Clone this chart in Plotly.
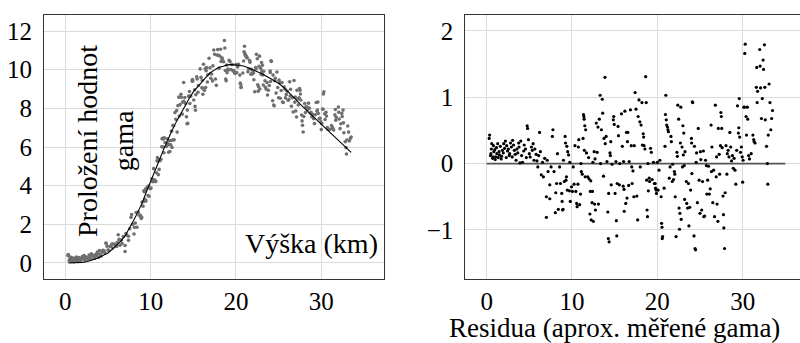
import plotly.graph_objects as go

# ---------------- data ----------------
height_km = [
    0.30, 0.35, 0.45, 0.50, 0.55, 0.60, 0.70, 0.75, 0.80, 0.85, 0.95, 1.00, 1.05, 1.15, 1.20, 1.30, 1.35, 1.45, 1.50, 1.60,
    1.70, 1.75, 1.85, 1.95, 2.00, 2.10, 2.20, 2.30, 2.35, 2.45, 2.55, 2.65, 2.70, 2.80, 2.90, 3.00, 3.05, 3.15, 3.25, 3.35,
    3.45, 3.55, 3.65, 3.75, 3.80, 3.90, 4.00, 4.10, 4.20, 4.35, 4.40, 4.55, 4.65, 4.75, 4.80, 4.90, 5.00, 5.10, 5.25, 5.35,
    5.45, 5.55, 5.65, 5.80, 5.90, 6.00, 6.10, 6.20, 6.30, 6.40, 6.55, 6.65, 6.80,
    7.00, 7.00, 7.10, 7.20, 7.40, 7.40, 7.55, 7.70, 7.77, 7.90, 8.05, 8.10, 8.20, 8.30, 8.40, 8.55, 8.65, 8.80, 8.85, 8.90,
    8.95, 9.00, 9.10, 9.20, 9.25, 9.30, 9.35, 9.40, 9.45, 9.50, 9.60, 9.70, 9.75, 9.80, 9.95, 10.05, 10.15, 10.25, 10.35, 10.45,
    10.55, 10.60, 10.70, 10.75, 10.80, 10.90, 11.00, 11.05, 11.10, 11.20, 11.30, 11.35, 11.40, 11.42, 11.45, 11.50, 11.55, 11.60, 11.70, 11.85,
    11.95, 12.00, 12.10, 12.15, 12.20, 12.25, 12.35, 12.40, 12.45, 12.50, 12.60, 12.65, 12.70, 12.75,
    12.85, 12.95, 13.05, 13.10, 13.20, 13.30, 13.35, 13.45, 13.55, 13.60, 13.70, 13.75, 13.87, 13.90, 14.00, 14.10, 14.20, 14.26, 14.30, 14.35,
    14.45, 14.50, 14.55, 14.60, 14.70, 14.85, 14.90, 14.95, 15.05, 15.15, 15.20, 15.25, 15.30, 15.40, 15.45, 15.55, 15.60, 15.80, 15.90, 16.00,
    16.05, 16.10, 16.12, 16.20, 16.30, 16.40, 16.45, 16.50, 16.55, 16.65, 16.70, 16.85, 16.95, 17.00, 17.05, 17.15, 17.25, 17.30, 17.40, 17.50,
    17.60, 17.70, 17.75, 17.85, 17.95, 18.00, 18.10, 18.20, 18.25, 18.35, 18.40, 18.45, 18.55, 18.64, 18.70, 18.75, 18.80, 18.85, 18.90, 18.95,
    19.05, 19.10, 19.20, 19.30, 19.40,
    19.55, 19.65, 19.75, 19.80, 19.85, 19.90, 20.00, 20.10, 20.20, 20.30, 20.45, 20.50, 20.55, 20.58, 20.62, 20.80, 20.90, 20.95, 21.00, 21.05,
    21.10, 21.20, 21.25, 21.30, 21.40, 21.50, 21.60, 21.65, 21.75, 21.80, 21.90, 22.00, 22.05, 22.10, 22.20, 22.30, 22.35, 22.40, 22.50, 22.55,
    22.60, 22.65, 22.70, 22.75, 22.80, 22.90, 22.95, 23.00, 23.05, 23.10, 23.15, 23.20, 23.25, 23.40, 23.45, 23.55, 23.65, 23.70, 23.80, 23.90,
    24.00, 24.02, 24.05, 24.10, 24.15, 24.30, 24.35, 24.42, 24.48, 24.55, 24.60, 24.70, 24.80, 24.90, 25.00, 25.05, 25.10, 25.20, 25.30, 25.40,
    25.45, 25.55, 25.65, 25.75, 25.80, 25.90, 26.00, 26.10, 26.20, 26.30, 26.35, 26.40, 26.50, 26.60, 26.70, 26.80, 26.90, 26.95, 27.00, 27.10,
    27.15, 27.25, 27.30, 27.40, 27.45, 27.50, 27.55, 27.60, 27.70, 27.75, 27.80, 27.88, 27.95,
    28.05, 28.15, 28.20, 28.30, 28.40, 28.50, 28.60, 28.70, 28.80, 28.90, 29.00, 29.10, 29.20, 29.30, 29.40, 29.50, 29.55, 29.60, 29.65, 29.75,
    29.85, 29.95, 30.00, 30.05, 30.15, 30.20, 30.25, 30.30, 30.40, 30.45, 30.55, 30.60, 30.70, 30.80, 31.00, 31.20, 31.30, 31.35, 31.45, 31.60,
    31.65, 31.70, 31.75, 32.00, 32.05, 32.10, 32.20, 32.30, 32.40, 32.45, 32.55, 32.60, 32.65, 32.80, 32.90, 32.95, 33.00, 33.10, 33.20, 33.30,
    33.40, 33.50,
]

gamma_measured = [
    0.38, 0.43, 0.12, 0.15, 0.22, 0.30, 0.08, 0.10, 0.27, 0.18, 0.21, 0.06, 0.11, 0.25, 0.16, 0.31, 0.10, 0.19, 0.14, 0.28,
    0.09, 0.13, 0.23, 0.19, 0.33, 0.27, 0.38, 0.14, 0.32, 0.25, 0.29, 0.20, 0.23, 0.41, 0.36, 0.22, 0.48, 0.42, 0.36, 0.32,
    0.24, 0.43, 0.39, 0.56, 0.51, 0.29, 0.64, 0.44, 0.36, 0.56, 0.66, 0.63, 0.53, 1.03, 1.00, 0.86, 0.67, 0.66, 0.86, 0.85,
    0.98, 0.77, 0.98, 0.96, 0.90, 0.85, 1.07, 1.46, 1.22, 0.91, 1.18, 1.01, 1.37,
    0.90, 0.59, 1.52, 1.43, 1.38, 1.17, 1.77, 2.36, 2.51, 2.00, 1.50, 1.85, 2.07, 2.61, 1.85, 2.63, 2.47, 2.46, 2.39, 2.30,
    2.36, 3.15, 2.94, 3.74, 3.69, 3.19, 3.30, 3.82, 3.21, 3.85, 3.92, 3.49, 3.98, 3.45, 3.84, 3.88, 4.36, 4.20, 4.88, 4.30,
    4.22, 4.22, 4.67, 5.28, 5.45, 4.57, 4.84, 5.35, 5.29, 5.36, 6.01, 6.43, 6.45, 6.43, 6.00, 6.42, 5.70, 6.47, 6.23, 6.03,
    6.43, 6.17, 5.73, 6.12, 6.32, 5.77, 6.12, 6.34, 6.82, 5.98, 7.12, 6.37, 7.10, 6.37,
    7.78, 7.43, 7.89, 6.77, 8.14, 8.58, 7.60, 8.19, 8.73, 8.57, 7.70, 8.32, 9.34, 8.36, 8.56, 8.25, 7.56, 7.20, 7.91, 7.22,
    8.63, 8.62, 8.87, 8.25, 8.63, 9.41, 9.49, 9.41, 8.43, 8.96, 8.10, 7.90, 8.71, 9.63, 9.52, 8.83, 9.18, 10.04, 9.60, 9.06,
    9.45, 9.05, 8.73, 10.28, 8.93, 10.05, 9.08, 9.95, 10.11, 9.36, 9.74, 10.59, 10.10, 9.80, 9.56, 9.78, 9.42, 10.20, 11.02, 10.80,
    9.52, 9.19, 10.76, 11.04, 10.74, 10.07, 10.71, 11.06, 10.43, 10.61, 10.57, 10.44, 10.41, 11.51, 11.12, 9.96, 9.52, 9.43, 10.24, 9.84,
    10.03, 9.98, 10.48, 10.42, 10.01,
    10.27, 9.95, 9.95, 9.88, 9.85, 9.80, 10.27, 9.85, 10.14, 10.28, 9.72, 9.31, 9.25, 9.08, 9.10, 9.83, 10.45, 10.92, 11.21, 10.83,
    10.74, 10.70, 10.65, 10.61, 9.89, 10.04, 10.48, 10.39, 9.77, 10.02, 9.78, 9.88, 9.83, 9.48, 8.86, 10.11, 10.04, 10.80, 10.57, 9.22,
    8.89, 9.12, 10.17, 10.70, 9.00, 10.07, 9.76, 10.37, 9.92, 10.23, 9.73, 9.21, 9.92, 9.43, 9.09, 8.99, 9.34, 8.69, 8.94, 9.18,
    9.93, 9.86, 9.39, 10.46, 10.43, 8.39, 9.72, 8.17, 8.13, 9.43, 9.56, 8.79, 9.88, 9.08, 8.55, 9.46, 9.32, 8.52, 8.92, 9.34,
    8.33, 8.30, 9.10, 8.99, 8.54, 8.71, 8.88, 8.42, 8.45, 9.37, 8.64, 8.99, 8.11, 8.55, 7.81, 9.44, 8.32, 8.59, 7.86, 7.55,
    8.93, 8.49, 8.17, 8.55, 9.03, 8.94, 8.74, 8.43, 7.65, 7.35, 7.12, 6.78, 7.58,
    8.25, 7.78, 8.07, 8.08, 7.94, 8.27, 8.01, 7.76, 7.80, 7.57, 7.68, 7.46, 7.21, 7.67, 8.30, 7.85, 7.91, 8.33, 7.73, 7.46,
    7.49, 7.30, 6.90, 7.21, 7.97, 7.95, 8.74, 8.85, 7.72, 7.42, 7.80, 7.60, 7.01, 6.91, 6.91, 7.11, 7.00, 6.95, 6.88, 7.66,
    7.94, 7.39, 7.54, 8.07, 7.80, 7.45, 6.95, 7.20, 7.74, 7.58, 7.91, 7.25, 6.74, 6.27, 5.97, 5.64, 6.36, 7.09, 6.77, 6.31,
    6.44, 6.52,
]

residua = [
    0.38, 0.43, 0.12, 0.15, 0.22, 0.30, 0.08, 0.10, 0.27, 0.18, 0.21, 0.06, 0.10, 0.24, 0.15, 0.30, 0.09, 0.18, 0.13, 0.26,
    0.07, 0.11, 0.20, 0.16, 0.30, 0.23, 0.34, 0.09, 0.27, 0.19, 0.22, 0.12, 0.15, 0.31, 0.25, 0.10, 0.35, 0.28, 0.20, 0.14,
    0.05, 0.22, 0.16, 0.31, 0.25, 0.01, 0.34, 0.12, 0.02, 0.19, 0.28, 0.22, 0.09, 0.57, 0.53, 0.36, 0.15, 0.10, 0.25, 0.20,
    0.30, 0.05, 0.22, 0.14, 0.04, -0.05, 0.12, 0.47, 0.18, -0.17, 0.02, -0.20, 0.08,
    -0.50, -0.81, 0.05, -0.12, -0.32, -0.53, -0.05, 0.41, 0.51, -0.12, -0.74, -0.44, -0.30, 0.15, -0.69, -0.05, -0.30, -0.45, -0.57, -0.70,
    -0.69, 0.05, -0.27, 0.41, 0.31, -0.25, -0.20, 0.26, -0.40, 0.18, 0.13, -0.41, 0.02, -0.57, -0.35, -0.42, -0.05, -0.31, 0.27, -0.42,
    -0.60, -0.65, -0.31, 0.25, 0.36, -0.62, -0.46, 0.00, -0.12, -0.16, 0.38, 0.74, 0.71, 0.67, 0.20, 0.57, -0.20, 0.51, 0.16, -0.20,
    0.09, -0.23, -0.76, -0.42, -0.26, -0.85, -0.59, -0.42, 0.02, -0.87, 0.18, -0.61, 0.07, -0.70,
    0.61, 0.17, 0.55, -0.61, 0.67, 1.03, 0.00, 0.51, 0.97, 0.76, -0.19, 0.38, 1.30, 0.30, 0.41, 0.03, -0.73, -1.13, -0.45, -1.18,
    0.16, 0.12, 0.33, -0.32, -0.01, 0.66, 0.71, 0.59, -0.45, 0.03, -0.86, -1.09, -0.30, 0.56, 0.42, -0.32, 0.00, 0.75, 0.26, -0.34,
    0.03, -0.39, -0.72, 0.79, -0.60, 0.47, -0.52, 0.33, 0.47, -0.33, 0.03, 0.81, 0.27, -0.05, -0.30, -0.11, -0.50, 0.27, 1.07, 0.82,
    -0.49, -0.85, 0.71, 0.96, 0.63, -0.05, 0.58, 0.92, 0.28, 0.45, 0.40, 0.27, 0.22, 1.31, 0.92, -0.25, -0.70, -0.80, 0.00, -0.41,
    -0.22, -0.27, 0.23, 0.17, -0.24,
    0.02, -0.30, -0.30, -0.37, -0.40, -0.45, 0.02, -0.40, -0.10, 0.05, -0.50, -0.90, -0.96, -1.13, -1.10, -0.37, 0.26, 0.74, 1.03, 0.66,
    0.58, 0.55, 0.51, 0.48, -0.22, -0.05, 0.41, 0.33, -0.27, -0.01, -0.24, -0.12, -0.16, -0.50, -1.10, 0.17, 0.11, 0.88, 0.67, -0.67,
    -0.99, -0.75, 0.31, 0.85, -0.84, 0.25, -0.05, 0.57, 0.13, 0.46, -0.03, -0.54, 0.18, -0.27, -0.60, -0.67, -0.30, -0.94, -0.66, -0.40,
    0.38, 0.31, -0.15, 0.93, 0.92, -1.09, 0.26, -1.28, -1.30, 0.02, 0.16, -0.59, 0.53, -0.25, -0.75, 0.18, 0.06, -0.70, -0.27, 0.19,
    -0.80, -0.79, 0.05, -0.03, -0.46, -0.25, -0.04, -0.46, -0.38, 0.58, -0.12, 0.25, -0.59, -0.10, -0.80, 0.88, -0.20, 0.10, -0.61, -0.87,
    0.53, 0.14, -0.16, 0.27, 0.77, 0.71, 0.53, 0.24, -0.49, -0.77, -0.97, -1.28, -0.44,
    0.27, -0.16, 0.15, 0.20, 0.10, 0.47, 0.25, 0.04, 0.12, -0.07, 0.08, -0.10, -0.31, 0.20, 0.87, 0.46, 0.54, 0.98, 0.40, 0.17,
    0.25, 0.10, -0.28, 0.05, 0.85, 0.85, 1.66, 1.80, 0.71, 0.43, 0.85, 0.67, 0.12, 0.07, 0.15, 0.43, 0.36, 0.33, 0.31, 1.15,
    1.45, 0.92, 1.09, 1.72, 1.47, 1.14, 0.68, 0.98, 1.56, 1.42, 1.79, 1.15, 0.66, 0.26, 0.00, -0.31, 0.43, 1.20, 0.92, 0.51,
    0.68, 0.80,
]

fit_x = [0.35, 1, 1.5, 2, 2.5, 3, 3.5, 4, 4.5, 5, 5.5, 6, 6.5, 7, 7.5, 8, 8.5, 9, 9.5, 10, 10.5, 11, 11.5, 12,
         12.5, 13, 13.5, 14, 14.5, 15, 15.5, 16, 16.5, 17, 17.5, 18, 18.5, 19, 19.5, 20, 20.5, 21, 21.5, 22,
         22.5, 23, 23.5, 24, 24.5, 25, 25.5, 26, 26.5, 27, 27.5, 28, 28.5, 29, 29.5, 30, 30.5, 31, 31.5, 32,
         32.5, 33, 33.5]
fit_gamma = [0.0, 0.0, 0.01, 0.03, 0.06, 0.12, 0.2, 0.3, 0.4, 0.52, 0.7, 0.9, 1.13, 1.4, 1.78, 2.2, 2.63, 3.1,
             3.67, 4.25, 4.77, 5.3, 5.85, 6.4, 6.85, 7.3, 7.72, 8.15, 8.5, 8.85, 9.12, 9.4, 9.62, 9.85, 9.98,
             10.12, 10.18, 10.25, 10.26, 10.25, 10.22, 10.18, 10.1, 10.0, 9.9, 9.8, 9.68, 9.55, 9.43, 9.3, 9.12,
             8.92, 8.7, 8.47, 8.23, 8.0, 7.8, 7.6, 7.39, 7.18, 6.97, 6.76, 6.55, 6.35, 6.14, 5.93, 5.72]

zero_line_x = [0, 35]
zero_line_y = [0, 0]

x_ticks = [0, 10, 20, 30]
y_ticks_left = [0, 2, 4, 6, 8, 10, 12]
y_ticks_right = [-1, 0, 1, 2]

assert len(height_km) == len(gamma_measured) == len(residua)
assert len(fit_x) == len(fit_gamma)

# ---------------- figure ----------------
W, H = 800, 343
FONT = "'Liberation Serif', 'Times New Roman', 'DejaVu Serif', serif"


def fx(p):
    return p / W


def fy(p):
    return 1 - p / H


fig = go.Figure()
fig.add_trace(go.Scatter(x=height_km, y=gamma_measured, mode="markers",
                         marker=dict(size=3.6, color="#6f6f6f"), xaxis="x", yaxis="y",
                         showlegend=False, hoverinfo="skip"))
fig.add_trace(go.Scatter(x=fit_x, y=fit_gamma, mode="lines",
                         line=dict(color="black", width=1.1), xaxis="x", yaxis="y",
                         showlegend=False, hoverinfo="skip"))
fig.add_trace(go.Scatter(x=zero_line_x, y=zero_line_y, mode="lines",
                         line=dict(color="#555555", width=1.6), xaxis="x2", yaxis="y2",
                         showlegend=False, hoverinfo="skip"))
fig.add_trace(go.Scatter(x=height_km, y=residua, mode="markers",
                         marker=dict(size=3.2, color="black"), xaxis="x2", yaxis="y2",
                         showlegend=False, hoverinfo="skip"))

ydom = [fy(279), fy(15)]
axis_common = dict(showgrid=True, gridcolor="#dadada", gridwidth=1, zeroline=False,
                   showline=True, linecolor="#333333", linewidth=1, ticks="",
                   tickfont=dict(family=FONT, size=25, color="black"))

fig.update_layout(
    width=W, height=H,
    margin=dict(l=0, r=0, t=0, b=0),
    paper_bgcolor="white", plot_bgcolor="white",
    font=dict(family=FONT, color="black"),
    xaxis=dict(domain=[fx(44), fx(384)], range=[-2.5, 37.35], tickvals=x_ticks, mirror=True,
               anchor="y", ticklabelstandoff=0, **axis_common),
    yaxis=dict(domain=ydom, range=[-0.83, 12.83], tickvals=y_ticks_left, mirror=True,
               anchor="x", ticklabelstandoff=6, **axis_common),
    xaxis2=dict(domain=[fx(465.3), 1.0], range=[-2.5, 36.72], tickvals=x_ticks, mirror=True,
                anchor="y2", ticklabelstandoff=0, **axis_common),
    yaxis2=dict(domain=ydom, range=[-1.74, 2.24], tickvals=y_ticks_right, mirror=False,
                anchor="x2", ticklabelstandoff=6, **axis_common),
    annotations=[
        dict(text="Proložení hodnot<br>gama", textangle=-90, xref="paper", yref="paper",
             x=fx(105), y=fy(141), xanchor="center", yanchor="middle", showarrow=False,
             align="center", font=dict(family=FONT, size=28, color="black")),
        dict(text="Výška (km)", xref="paper", yref="paper", x=fx(380), y=fy(243),
             xanchor="right", yanchor="middle", showarrow=False,
             font=dict(family=FONT, size=28, color="black")),
        dict(text="Residua (aprox. měřené gama)", xref="paper", yref="paper", x=fx(614), y=fy(328),
             xanchor="center", yanchor="middle", showarrow=False,
             font=dict(family=FONT, size=27, color="black")),
    ],
)

fig.write_html("out.html")
